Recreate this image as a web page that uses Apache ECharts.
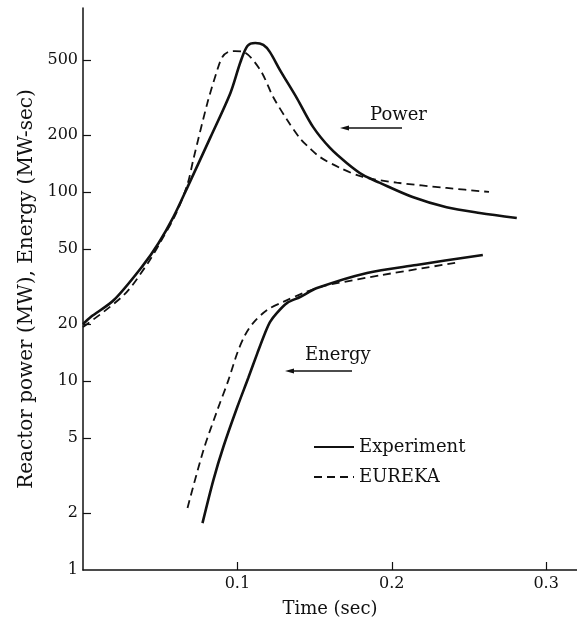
<!DOCTYPE html>
<html>
<head>
<meta charset="utf-8">
<script src="https://cdn.jsdelivr.net/npm/echarts@6/dist/echarts.min.js"></script>
<style>
  html, body { margin: 0; padding: 0; background: #fff; }
  #main { width: 577px; height: 623px; }
</style>
</head>
<body>
<div id="main"></div>
<script>
// 数据
var powerExp = [
    [0, 20], [0.005, 21.8], [0.02, 26.8], [0.039, 41], [0.049, 53.7], [0.0587, 74],
    [0.0677, 106], [0.0826, 195], [0.0955, 334], [0.102, 487], [0.1065, 592],
    [0.1116, 614], [0.1168, 600], [0.121, 551], [0.1277, 440], [0.1387, 312],
    [0.149, 221], [0.16, 171], [0.171, 142], [0.1813, 123], [0.192, 112],
    [0.2135, 94], [0.2355, 83], [0.257, 77.4], [0.281, 72.8]
];
var powerEureka = [
    [0, 19.3], [0.0265, 28.5], [0.042, 42], [0.05, 54], [0.06, 76], [0.0677, 110],
    [0.0716, 150], [0.0806, 296], [0.087, 442], [0.0903, 518], [0.0942, 551],
    [0.0985, 556], [0.104, 551], [0.1148, 442], [0.1232, 318], [0.1323, 240],
    [0.1406, 192], [0.147, 170], [0.1535, 153], [0.1665, 134], [0.1813, 120],
    [0.2032, 112], [0.2355, 105], [0.263, 100]
];
var energyExp = [
    [0.0774, 1.77], [0.0845, 3.0], [0.091, 4.5], [0.1, 7.3], [0.1071, 10.4],
    [0.1129, 14.0], [0.118, 18.0], [0.1213, 20.6], [0.1258, 23.0], [0.1323, 25.9],
    [0.1406, 27.8], [0.1516, 31], [0.184, 37.3], [0.216, 41.1], [0.259, 46.4]
];
var energyEureka = [
    [0.0677, 2.13], [0.078, 4.3], [0.087, 7.0], [0.0942, 10.1], [0.1, 14.1],
    [0.105, 17.5], [0.1103, 20.3], [0.1194, 23.8], [0.1297, 26.2], [0.1426, 29.2],
    [0.1535, 31.4], [0.162, 32.6], [0.194, 36.4], [0.243, 42.4]
];
var yTicks = [2, 5, 10, 20, 50, 100, 200, 500];
var yLabels = [1, 2, 5, 10, 20, 50, 100, 200, 500];
var xTicks = [0.1, 0.2, 0.3];

var serif = 'DejaVu Serif';
var ink = '#111';

var myChart = echarts.init(document.getElementById('main'));

function curve(name, data, dashed) {
    return {
        name: name,
        type: 'line',
        data: data,
        symbol: 'none',
        smooth: 0.3,
        silent: true,
        lineStyle: dashed
            ? { color: ink, width: 1.8, type: [8, 5] }
            : { color: ink, width: 2.6 },
        itemStyle: { color: ink }
    };
}

// 左向箭头
function arrow(x1, x2, y) {
    return {
        type: 'group',
        children: [
            { type: 'line', shape: { x1: x1, y1: y, x2: x2 + 6, y2: y },
              style: { stroke: ink, lineWidth: 1.4 } },
            { type: 'polygon', shape: { points: [[x2, y], [x2 + 9, y - 2.5], [x2 + 9, y + 2.5]] },
              style: { fill: ink } }
        ]
    };
}

var option = {
    animation: false,
    backgroundColor: '#fff',
    grid: { left: 83, right: -1, top: 8, bottom: 53 },
    legend: {
        orient: 'vertical',
        left: 313,
        top: 438,
        padding: 0,
        itemWidth: 40,
        itemHeight: 14,
        itemGap: 12,
        data: ['Experiment', 'EUREKA'],
        itemStyle: { color: 'transparent', borderColor: 'transparent', borderWidth: 0, opacity: 0 },
        textStyle: { fontFamily: serif, fontSize: 18, color: ink }
    },
    xAxis: {
        type: 'value',
        min: 0,
        max: 0.32,
        name: 'Time (sec)',
        nameLocation: 'middle',
        nameGap: 30,
        nameTextStyle: { fontFamily: serif, fontSize: 18, color: ink },
        splitLine: { show: false },
        axisLine: { lineStyle: { color: ink, width: 1.5 } },
        axisTick: { inside: true, length: 8, customValues: xTicks, lineStyle: { color: ink, width: 1.2 } },
        axisLabel: { customValues: xTicks, margin: 6, fontFamily: serif, fontSize: 16, color: ink }
    },
    yAxis: {
        type: 'log',
        logBase: 10,
        min: 1,
        max: 940,
        name: 'Reactor power (MW), Energy (MW-sec)',
        nameLocation: 'middle',
        nameGap: 44,
        nameTextStyle: { fontFamily: serif, fontSize: 20, color: ink },
        splitLine: { show: false },
        axisLine: { lineStyle: { color: ink, width: 1.5 } },
        axisTick: { inside: true, length: 8, customValues: yTicks, lineStyle: { color: ink, width: 1.2 } },
        axisLabel: { customValues: yLabels, margin: 5, fontFamily: serif, fontSize: 16, color: ink }
    },
    graphic: [
        { type: 'text', left: 370, top: 106,
          style: { text: 'Power', font: '18px "DejaVu Serif"', fill: ink } },
        arrow(402, 340, 128),
        { type: 'text', left: 305, top: 346,
          style: { text: 'Energy', font: '18px "DejaVu Serif"', fill: ink } },
        arrow(352, 285, 371)
    ],
    series: [
        curve('Experiment', powerExp, false),
        curve('EUREKA', powerEureka, true),
        curve('Experiment', energyExp, false),
        curve('EUREKA', energyEureka, true)
    ]
};

myChart.setOption(option);
</script>
</body>
</html>
